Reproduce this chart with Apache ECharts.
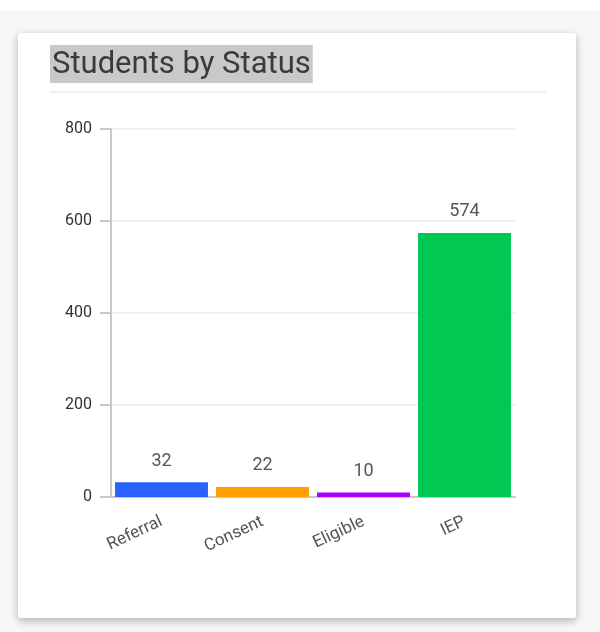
<!DOCTYPE html>
<html>
<head>
<meta charset="utf-8">
<script src="https://cdn.jsdelivr.net/npm/echarts@6/dist/echarts.min.js"></script>
<style>
html,body{margin:0;padding:0;background:#fff;}
#chart{width:600px;height:632px;}
</style>
</head>
<body>
<div id="chart"></div>
<script>
const titleText = 'Students by Status';
const categories = ['Referral', 'Consent', 'Eligible', 'IEP'];
const values = [32, 22, 10, 574];
const barColors = ['#2962ff', '#ffa000', '#aa00ff', '#00c853'];
const yTicks = [0, 200, 400, 600, 800];

const chart = echarts.init(document.getElementById('chart'), null, {renderer: 'canvas'});
chart.setOption({
  animation: false,
  backgroundColor: '#ffffff',
  graphic: [
    {type: 'rect', z: -10, shape: {x: 0, y: 11, width: 600, height: 621}, style: {fill: '#f6f7f9'}},
    {type: 'rect', z: -9, shape: {x: 18, y: 33, width: 558, height: 585, r: 3},
      style: {fill: '#ffffff', shadowBlur: 8, shadowOffsetY: 3, shadowColor: 'rgba(0,0,0,0.28)'}},
    {type: 'rect', z: -8, shape: {x: 50, y: 91, width: 496, height: 1.5}, style: {fill: '#ebebeb'}}
  ],
  title: {
    text: titleText,
    left: 50, top: 45,
    padding: [3, 2, 1, 2],
    backgroundColor: '#c9c9c9',
    textStyle: {fontFamily: 'Roboto', fontSize: 31, fontWeight: 'normal', color: '#3a3a3a', lineHeight: 34}
  },
  grid: {left: 111, right: 85, top: 129, bottom: 135, containLabel: false},
  xAxis: {
    type: 'category',
    data: categories,
    axisLine: {lineStyle: {color: '#c8c8c8', width: 2}},
    axisTick: {show: false},
    axisLabel: {rotate: 25, margin: 24, fontFamily: 'Roboto', fontSize: 17, color: '#555'}
  },
  yAxis: {
    type: 'value',
    min: yTicks[0], max: yTicks[yTicks.length - 1], interval: 200,
    axisLine: {show: true, lineStyle: {color: '#c8c8c8', width: 2}},
    axisTick: {show: true, length: 11, lineStyle: {color: '#c8c8c8', width: 2}},
    axisLabel: {margin: 19, fontFamily: 'Roboto', fontSize: 16, color: '#333'},
    splitLine: {lineStyle: {color: '#ececec', width: 1.5}}
  },
  series: [{
    type: 'bar',
    data: values.map((v, i) => ({value: v, itemStyle: {color: barColors[i]}})),
    barCategoryGap: '8%',
    label: {show: true, position: 'top', distance: 12, fontFamily: 'Roboto', fontSize: 18, color: '#555'}
  }]
});
</script>
</body>
</html>
